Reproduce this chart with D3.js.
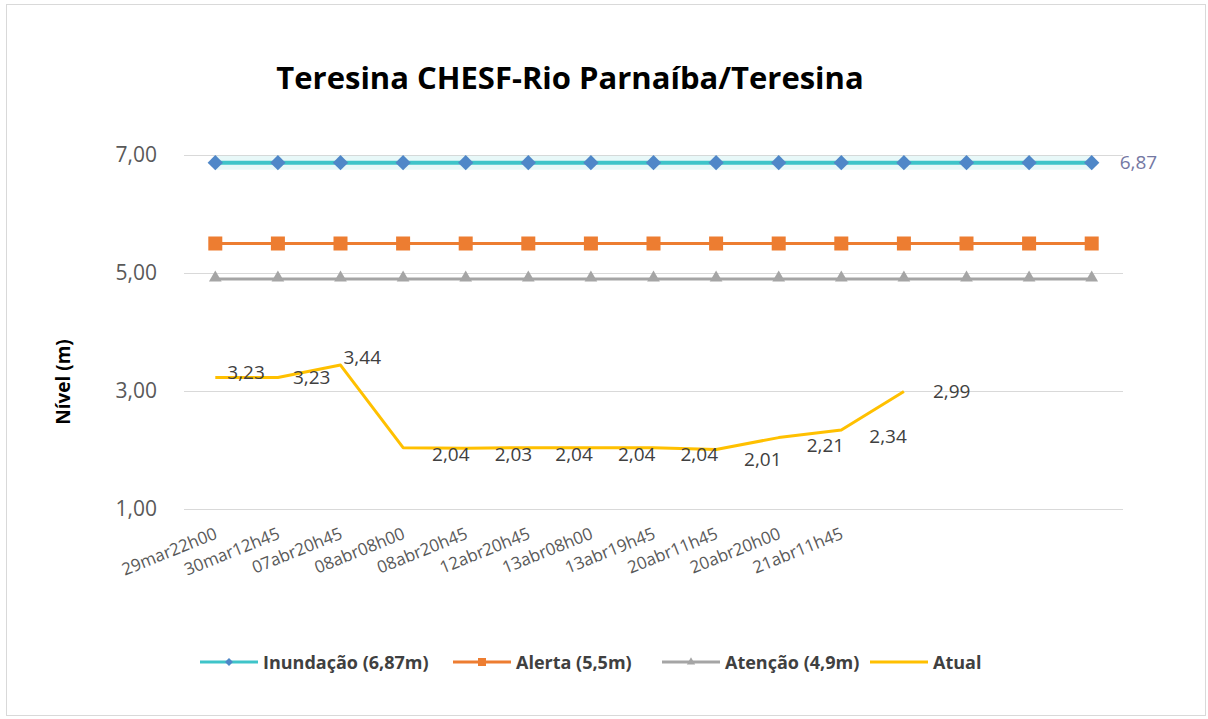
<!DOCTYPE html>
<meta charset="utf-8">
<style>
  body { margin: 0; background: #fff; }
  text { font-family: "Open Sans", "Noto Sans", sans-serif; }
  .tick text { fill: #595959; }
</style>
<svg width="1208" height="719"></svg>
<script src="https://cdn.jsdelivr.net/npm/d3@7"></script>
<script>
// categories (15 slots, only the first 11 have a label)
var labels = ["29mar22h00", "30mar12h45", "07abr20h45", "08abr08h00", "08abr20h45",
              "12abr20h45", "13abr08h00", "13abr19h45", "20abr11h45", "20abr20h00",
              "21abr11h45", "", "", "", ""];
var inundacao = [6.87, 6.87, 6.87, 6.87, 6.87, 6.87, 6.87, 6.87, 6.87, 6.87, 6.87, 6.87, 6.87, 6.87, 6.87];
var alerta    = [5.5, 5.5, 5.5, 5.5, 5.5, 5.5, 5.5, 5.5, 5.5, 5.5, 5.5, 5.5, 5.5, 5.5, 5.5];
var atencao   = [4.9, 4.9, 4.9, 4.9, 4.9, 4.9, 4.9, 4.9, 4.9, 4.9, 4.9, 4.9, 4.9, 4.9, 4.9];
var atual     = [3.23, 3.23, 3.44, 2.04, 2.03, 2.04, 2.04, 2.04, 2.01, 2.21, 2.34, 2.99];
var yTicks    = [1, 3, 5, 7];

var svg = d3.select("svg");

// chart border
svg.append("rect")
    .attr("x", 6.5).attr("y", 4.5).attr("width", 1199).attr("height", 711)
    .attr("fill", "#fff").attr("stroke", "#d9d9d9");

var x = d3.scaleBand().domain(d3.range(labels.length)).range([184, 1123]);
var y = d3.scaleLinear().domain([1, 7]).range([509, 155]);
var cx = function(i) { return x(i) + x.bandwidth() / 2; };
var fmt = function(v) { return d3.format(".2f")(v).replace(".", ","); };

// gridlines + y axis
var yAxis = svg.append("g")
    .attr("transform", "translate(184,0)")
    .call(d3.axisLeft(y).tickValues(yTicks).tickSize(-939).tickPadding(27).tickFormat(fmt));
yAxis.select(".domain").remove();
yAxis.selectAll("line").attr("stroke", "#d9d9d9");
yAxis.selectAll("text").style("font-size", "21px");

// x axis labels, rotated
var xAxis = svg.append("g")
    .attr("transform", "translate(0,509)")
    .call(d3.axisBottom(x).tickSize(0).tickFormat(function(i) { return labels[i]; }));
xAxis.select(".domain").remove();
xAxis.selectAll("text")
    .style("font-size", "17px")
    .attr("fill", "#404040")
    .attr("text-anchor", "end")
    .attr("dy", null)
    .attr("y", 0)
    .attr("transform", "translate(3,29) rotate(-22)");

var line = d3.line().x(function(d, i) { return cx(i); }).y(function(d) { return y(d); });

// Inundação (with faint halo)
svg.append("path").datum(inundacao).attr("d", line)
    .attr("fill", "none").attr("stroke", "#3fc4c9").attr("stroke-opacity", 0.12).attr("stroke-width", 14);
svg.append("path").datum(inundacao).attr("d", line)
    .attr("fill", "none").attr("stroke", "#3fc4c9").attr("stroke-width", 4);
svg.selectAll(".dia").data(inundacao).enter().append("path")
    .attr("d", d3.symbol().type(d3.symbolDiamond2).size(150))
    .attr("transform", function(d, i) { return "translate(" + cx(i) + "," + y(d) + ")"; })
    .attr("fill", "#4f87c8");

// Alerta
svg.append("path").datum(alerta).attr("d", line)
    .attr("fill", "none").attr("stroke", "#ed7d31").attr("stroke-width", 3);
svg.selectAll(".sq").data(alerta).enter().append("rect")
    .attr("x", function(d, i) { return cx(i) - 7; })
    .attr("y", function(d) { return y(d) - 7; })
    .attr("width", 14).attr("height", 14)
    .attr("fill", "#ed7d31");

// Atenção
svg.append("path").datum(atencao).attr("d", line)
    .attr("fill", "none").attr("stroke", "#a5a5a5").attr("stroke-width", 3);
svg.selectAll(".tri").data(atencao).enter().append("path")
    .attr("d", d3.symbol().type(d3.symbolTriangle).size(70))
    .attr("transform", function(d, i) { return "translate(" + cx(i) + "," + (y(d) - 1) + ")"; })
    .attr("fill", "#a5a5a5");

// Atual
svg.append("path").datum(atual).attr("d", line)
    .attr("fill", "none").attr("stroke", "#ffc000").attr("stroke-width", 3)
    .attr("stroke-linejoin", "round");

// data labels of Atual
var dx = [12, 15, 3, 29, 29, 27, 27, 27, 28, 28, 28, 29];
var dy = [2, 7, -1, 13, 13, 13, 13, 13, 17, 14, 13, 6];
svg.selectAll(".lab").data(atual).enter().append("text")
    .attr("x", function(d, i) { return cx(i) + dx[i]; })
    .attr("y", function(d, i) { return y(d) + dy[i]; })
    .attr("fill", "#404040")
    .style("font-size", "19px")
    .text(fmt);

// label of last Inundação point
svg.append("text")
    .attr("x", cx(inundacao.length - 1) + 28)
    .attr("y", y(inundacao[inundacao.length - 1]) + 6)
    .attr("fill", "#7478a3")
    .style("font-size", "19px")
    .text(fmt(inundacao[inundacao.length - 1]));

// title
svg.append("text")
    .attr("x", 570).attr("y", 89)
    .attr("text-anchor", "middle")
    .attr("fill", "#000")
    .style("font-size", "31px").style("font-weight", "bold")
    .text("Teresina CHESF-Rio Parnaíba/Teresina");

// y axis title
svg.append("text")
    .attr("transform", "translate(70,382) rotate(-90)")
    .attr("text-anchor", "middle")
    .attr("fill", "#000")
    .style("font-size", "19px").style("font-weight", "bold")
    .text("Nível (m)");

// legend
var legend = [
  { name: "Inundação (6,87m)", color: "#3fc4c9", mark: "#4f87c8", shape: "diamond", x: 200 },
  { name: "Alerta (5,5m)", color: "#ed7d31", mark: "#ed7d31", shape: "square", x: 453 },
  { name: "Atenção (4,9m)", color: "#a5a5a5", mark: "#a5a5a5", shape: "triangle", x: 662 },
  { name: "Atual", color: "#ffc000", mark: null, shape: null, x: 870 }
];
var lg = svg.selectAll(".lg").data(legend).enter().append("g")
    .attr("transform", function(d) { return "translate(" + d.x + ",662)"; });
lg.append("line").attr("x1", 0).attr("x2", 58)
    .attr("stroke", function(d) { return d.color; }).attr("stroke-width", 3);
lg.filter(function(d) { return d.shape === "diamond"; }).append("path")
    .attr("d", d3.symbol().type(d3.symbolDiamond2).size(40))
    .attr("transform", "translate(29,0)").attr("fill", function(d) { return d.mark; });
lg.filter(function(d) { return d.shape === "square"; }).append("rect")
    .attr("x", 25).attr("y", -4).attr("width", 8).attr("height", 8)
    .attr("fill", function(d) { return d.mark; });
lg.filter(function(d) { return d.shape === "triangle"; }).append("path")
    .attr("d", d3.symbol().type(d3.symbolTriangle).size(30))
    .attr("transform", "translate(29,0)").attr("fill", function(d) { return d.mark; });
lg.append("text")
    .attr("x", 63).attr("y", 6.5)
    .attr("fill", "#404040")
    .style("font-size", "18px").style("font-weight", "bold")
    .text(function(d) { return d.name; });
</script>
